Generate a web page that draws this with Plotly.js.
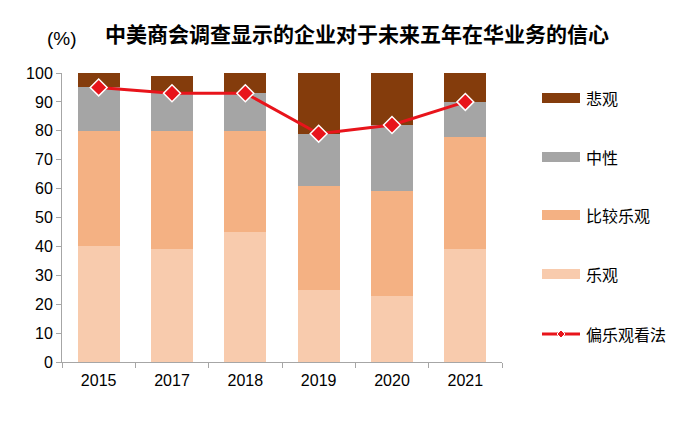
<!DOCTYPE html>
<html>
<head>
<meta charset="utf-8">
<script src="https://cdn.plot.ly/plotly-3.0.1.min.js"></script>
<style>
  html, body { margin: 0; padding: 0; background: #fff; }
  #chart { width: 700px; height: 424px; }
</style>
</head>
<body>
<div id="chart"></div>
<script>
// ---- Data ----
const years = ['2015', '2017', '2018', '2019', '2020', '2021'];
const optimistic = [40, 39, 45, 25, 23, 39];          // 乐观
const fairlyOptimistic = [40, 41, 35, 36, 36, 39];    // 比较乐观
const neutral = [15, 13, 13, 18, 23, 12];             // 中性
const pessimistic = [5, 6, 7, 21, 18, 10];            // 悲观
const positiveView = [95, 93, 93, 79, 82, 90];        // 偏乐观看法

const seriesNames = ['乐观', '比较乐观', '中性', '悲观'];
const lineName = '偏乐观看法';
const yTicks = [0, 10, 20, 30, 40, 50, 60, 70, 80, 90, 100];
const titleText = '中美商会调查显示的企业对于未来五年在华业务的信心';
const unitText = '(%)';

// ---- Styles ----
const colors = ['#F8CBAD', '#F4B183', '#A5A5A5', '#843C0C'];
const lineColor = '#E8141B';
const axisColor = '#A6A6A6';
const numFont = 'Liberation Sans, Arial, sans-serif';
const cjkFont = 'Noto Sans CJK SC, sans-serif';

const W = 700, H = 424;
const M = { l: 62, r: 198, t: 73, b: 62 };
const pw = W - M.l - M.r, ph = H - M.t - M.b;
const px = x => (x - M.l) / pw;
const py = y => (H - M.b - y) / ph;

const values = [optimistic, fairlyOptimistic, neutral, pessimistic];
const traces = values.map((v, i) => ({
  type: 'bar', x: years, y: v, name: seriesNames[i],
  marker: { color: colors[i], line: { width: 0 } },
  showlegend: false, hoverinfo: 'x+y+name'
}));
traces.push({
  type: 'scatter', mode: 'lines+markers', x: years, y: positiveView, name: lineName,
  line: { color: lineColor, width: 3 },
  marker: { symbol: 'diamond', size: 13, color: lineColor, line: { color: '#FFFFFF', width: 1.5 } },
  showlegend: false
});

// ---- Custom legend (top to bottom: 悲观, 中性, 比较乐观, 乐观, 偏乐观看法) ----
const legendOrder = [3, 2, 1, 0];
const legendY = [98, 157, 215, 274, 334];
const shapes = [];
const annotations = [];
legendOrder.forEach((si, k) => {
  shapes.push({
    type: 'rect', xref: 'paper', yref: 'paper',
    x0: px(542), x1: px(580), y0: py(legendY[k] - 5), y1: py(legendY[k] + 5),
    fillcolor: colors[si], line: { width: 0 }
  });
  annotations.push({
    xref: 'paper', yref: 'paper', x: px(584), y: py(legendY[k]),
    xanchor: 'left', yanchor: 'middle', showarrow: false,
    text: seriesNames[si], font: { family: cjkFont, size: 16, color: '#000' }
  });
});
shapes.push({
  type: 'line', xref: 'paper', yref: 'paper',
  x0: px(542), x1: px(580), y0: py(legendY[4]), y1: py(legendY[4]),
  line: { color: lineColor, width: 3 }
});
shapes.push({
  type: 'path', xref: 'paper', yref: 'paper',
  path: `M ${px(561)} ${py(legendY[4] - 4)} L ${px(565)} ${py(legendY[4])} L ${px(561)} ${py(legendY[4] + 4)} L ${px(557)} ${py(legendY[4])} Z`,
  fillcolor: lineColor, line: { color: '#FFFFFF', width: 1 }
});
annotations.push({
  xref: 'paper', yref: 'paper', x: px(584), y: py(legendY[4]),
  xanchor: 'left', yanchor: 'middle', showarrow: false,
  text: lineName, font: { family: cjkFont, size: 16, color: '#000' }
});

// Title and unit
annotations.push({
  xref: 'paper', yref: 'paper', x: px(357), y: py(33),
  xanchor: 'center', yanchor: 'middle', showarrow: false,
  text: '<b>' + titleText + '</b>', font: { family: cjkFont, size: 21, color: '#000' }
});
annotations.push({
  xref: 'paper', yref: 'paper', x: px(62), y: py(39),
  xanchor: 'center', yanchor: 'middle', showarrow: false,
  text: unitText, font: { family: numFont, size: 19, color: '#000' }
});

const layout = {
  width: W, height: H,
  margin: M,
  paper_bgcolor: '#FFFFFF', plot_bgcolor: '#FFFFFF',
  barmode: 'stack', bargap: 0.43,
  showlegend: false,
  xaxis: {
    type: 'category', showgrid: false, zeroline: false,
    showline: true, linecolor: axisColor, linewidth: 1,
    ticks: 'outside', tickson: 'boundaries', ticklen: 5, tickcolor: axisColor,
    ticklabelstandoff: 4,
    tickfont: { family: numFont, size: 16, color: '#000' }
  },
  yaxis: {
    range: [0, 100], tickvals: yTicks, showgrid: false, zeroline: false,
    showline: true, linecolor: axisColor, linewidth: 1,
    ticks: 'outside', ticklen: 5, tickcolor: axisColor,
    tickfont: { family: numFont, size: 16, color: '#000' }
  },
  shapes: shapes,
  annotations: annotations
};

Plotly.newPlot('chart', traces, layout, { displayModeBar: false, staticPlot: true });
</script>
</body>
</html>
